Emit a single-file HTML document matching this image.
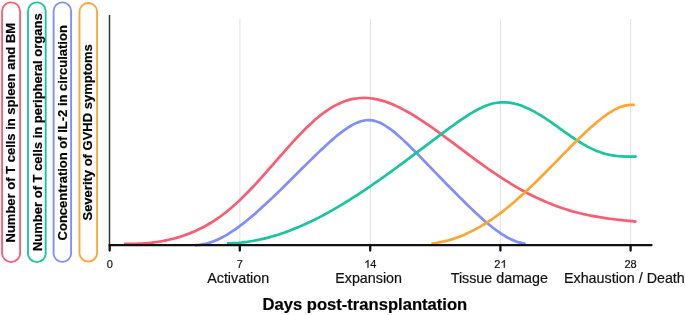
<!DOCTYPE html>
<html><head><meta charset="utf-8"><style>
html,body{margin:0;padding:0;background:#fff;width:685px;height:315px;overflow:hidden}
svg{display:block;will-change:transform}
text{font-family:"Liberation Sans",sans-serif;fill:#111;stroke:#111;stroke-width:0.2px;paint-order:stroke}
.pt{font-size:13px;font-weight:bold;fill:#000}
.tl{font-size:11px}
.cl{font-size:14.3px}
.ax{font-size:16.6px;font-weight:bold;fill:#000}
</style></head><body>
<svg width="685" height="315" viewBox="0 0 685 315">
<rect x="2.1" y="2.3" width="18.0" height="259.8" rx="9.0" ry="9.0" fill="none" stroke="#f85d72" stroke-width="1.85"/>
<text transform="translate(14.6,132.7) rotate(-90)" text-anchor="middle" class="pt">Number of T cells in spleen and BM</text>
<rect x="28.0" y="2.3" width="17.7" height="259.8" rx="8.85" ry="8.85" fill="none" stroke="#19c4a0" stroke-width="1.85"/>
<text transform="translate(41.5,132.2) rotate(-90)" text-anchor="middle" class="pt">Number of T cells in peripheral organs</text>
<rect x="53.6" y="2.3" width="17.5" height="259.6" rx="8.75" ry="8.75" fill="none" stroke="#7f8efc" stroke-width="1.85"/>
<text transform="translate(66.8,132.8) rotate(-90)" text-anchor="middle" class="pt">Concentration of IL-2 in circulation</text>
<rect x="79.5" y="3.0" width="17.6" height="258.6" rx="8.8" ry="8.8" fill="none" stroke="#fea633" stroke-width="1.85"/>
<text transform="translate(91.7,132.4) rotate(-90)" text-anchor="middle" class="pt">Severity of GVHD symptoms</text>
<line x1="239.9" y1="19" x2="239.9" y2="245" stroke="#e3e4e7" stroke-width="1.1"/>
<line x1="370.4" y1="19" x2="370.4" y2="245" stroke="#e3e4e7" stroke-width="1.1"/>
<line x1="500.5" y1="19" x2="500.5" y2="245" stroke="#e3e4e7" stroke-width="1.1"/>
<line x1="630.6" y1="19" x2="630.6" y2="245" stroke="#e3e4e7" stroke-width="1.1"/>
<path d="M124.00,243.85 C124.50,243.86 126.00,243.89 127.00,243.91 C128.00,243.92 129.00,243.92 130.00,243.92 C131.00,243.92 132.00,243.91 133.00,243.89 C134.00,243.87 135.00,243.85 136.00,243.82 C137.00,243.79 138.00,243.75 139.00,243.70 C140.00,243.65 141.00,243.60 142.00,243.54 C143.00,243.47 144.00,243.40 145.00,243.32 C146.00,243.24 147.00,243.16 148.00,243.06 C149.00,242.97 150.00,242.86 151.00,242.75 C152.00,242.64 153.00,242.51 154.00,242.38 C155.00,242.25 156.00,242.11 157.00,241.97 C158.00,241.82 159.00,241.66 160.00,241.49 C161.00,241.32 162.00,241.15 163.00,240.96 C164.00,240.77 165.00,240.57 166.00,240.37 C167.00,240.16 168.00,239.94 169.00,239.71 C170.00,239.48 171.00,239.25 172.00,238.99 C173.00,238.74 174.00,238.48 175.00,238.21 C176.00,237.94 177.00,237.66 178.00,237.36 C179.00,237.06 180.00,236.76 181.00,236.44 C182.00,236.12 183.00,235.79 184.00,235.44 C185.00,235.10 186.00,234.74 187.00,234.37 C188.00,234.00 189.00,233.62 190.00,233.22 C191.00,232.83 192.00,232.42 193.00,231.99 C194.00,231.57 195.00,231.13 196.00,230.68 C197.00,230.23 198.00,229.76 199.00,229.28 C200.00,228.80 201.00,228.30 202.00,227.79 C203.00,227.27 204.00,226.75 205.00,226.20 C206.00,225.66 207.00,225.10 208.00,224.52 C209.00,223.94 210.00,223.35 211.00,222.74 C212.00,222.13 213.00,221.50 214.00,220.85 C215.00,220.21 216.00,219.54 217.00,218.86 C218.00,218.18 219.00,217.48 220.00,216.76 C221.00,216.04 222.00,215.31 223.00,214.55 C224.00,213.80 225.00,213.02 226.00,212.23 C227.00,211.44 228.00,210.63 229.00,209.80 C230.00,208.97 231.00,208.12 232.00,207.26 C233.00,206.39 234.00,205.51 235.00,204.61 C236.00,203.71 237.00,202.80 238.00,201.86 C239.00,200.93 240.00,199.98 241.00,199.02 C242.00,198.05 243.00,197.07 244.00,196.08 C245.00,195.09 246.00,194.08 247.00,193.06 C248.00,192.04 249.00,191.01 250.00,189.96 C251.00,188.92 252.00,187.86 253.00,186.79 C254.00,185.73 255.00,184.65 256.00,183.56 C257.00,182.48 258.00,181.38 259.00,180.28 C260.00,179.18 261.00,178.07 262.00,176.95 C263.00,175.83 264.00,174.71 265.00,173.58 C266.00,172.45 267.00,171.32 268.00,170.18 C269.00,169.05 270.00,167.90 271.00,166.76 C272.00,165.62 273.00,164.47 274.00,163.33 C275.00,162.18 276.00,161.04 277.00,159.89 C278.00,158.75 279.00,157.60 280.00,156.46 C281.00,155.32 282.00,154.17 283.00,153.04 C284.00,151.90 285.00,150.77 286.00,149.64 C287.00,148.51 288.00,147.39 289.00,146.28 C290.00,145.16 291.00,144.05 292.00,142.95 C293.00,141.85 294.00,140.76 295.00,139.68 C296.00,138.60 297.00,137.53 298.00,136.47 C299.00,135.41 300.00,134.36 301.00,133.33 C302.00,132.29 303.00,131.27 304.00,130.27 C305.00,129.26 306.00,128.27 307.00,127.30 C308.00,126.32 309.00,125.37 310.00,124.43 C311.00,123.49 312.00,122.57 313.00,121.67 C314.00,120.77 315.00,119.89 316.00,119.03 C317.00,118.18 318.00,117.34 319.00,116.53 C320.00,115.72 321.00,114.92 322.00,114.16 C323.00,113.39 324.00,112.65 325.00,111.93 C326.00,111.22 327.00,110.53 328.00,109.86 C329.00,109.20 330.00,108.56 331.00,107.94 C332.00,107.33 333.00,106.74 334.00,106.19 C335.00,105.63 336.00,105.10 337.00,104.59 C338.00,104.09 339.00,103.62 340.00,103.17 C341.00,102.72 342.00,102.31 343.00,101.92 C344.00,101.53 345.00,101.17 346.00,100.83 C347.00,100.50 348.00,100.20 349.00,99.92 C350.00,99.65 351.00,99.40 352.00,99.19 C353.00,98.97 354.00,98.78 355.00,98.62 C356.00,98.46 357.00,98.33 358.00,98.22 C359.00,98.12 360.00,98.04 361.00,97.99 C362.00,97.94 363.00,97.92 364.00,97.92 C365.00,97.93 366.00,97.96 367.00,98.01 C368.00,98.07 369.00,98.15 370.00,98.26 C371.00,98.37 372.00,98.50 373.00,98.65 C374.00,98.81 375.00,98.99 376.00,99.19 C377.00,99.39 378.00,99.62 379.00,99.86 C380.00,100.11 381.00,100.37 382.00,100.66 C383.00,100.95 384.00,101.26 385.00,101.58 C386.00,101.91 387.00,102.26 388.00,102.62 C389.00,102.99 390.00,103.37 391.00,103.77 C392.00,104.17 393.00,104.59 394.00,105.03 C395.00,105.46 396.00,105.91 397.00,106.38 C398.00,106.84 399.00,107.32 400.00,107.82 C401.00,108.32 402.00,108.83 403.00,109.35 C404.00,109.87 405.00,110.41 406.00,110.96 C407.00,111.51 408.00,112.08 409.00,112.65 C410.00,113.22 411.00,113.81 412.00,114.41 C413.00,115.00 414.00,115.61 415.00,116.23 C416.00,116.85 417.00,117.47 418.00,118.11 C419.00,118.75 420.00,119.39 421.00,120.05 C422.00,120.70 423.00,121.37 424.00,122.04 C425.00,122.71 426.00,123.39 427.00,124.07 C428.00,124.75 429.00,125.45 430.00,126.14 C431.00,126.84 432.00,127.55 433.00,128.25 C434.00,128.96 435.00,129.68 436.00,130.40 C437.00,131.12 438.00,131.84 439.00,132.57 C440.00,133.29 441.00,134.03 442.00,134.76 C443.00,135.49 444.00,136.23 445.00,136.97 C446.00,137.71 447.00,138.46 448.00,139.20 C449.00,139.94 450.00,140.69 451.00,141.44 C452.00,142.19 453.00,142.94 454.00,143.69 C455.00,144.44 456.00,145.19 457.00,145.94 C458.00,146.69 459.00,147.44 460.00,148.19 C461.00,148.94 462.00,149.69 463.00,150.44 C464.00,151.19 465.00,151.94 466.00,152.68 C467.00,153.43 468.00,154.18 469.00,154.92 C470.00,155.66 471.00,156.40 472.00,157.14 C473.00,157.88 474.00,158.62 475.00,159.35 C476.00,160.08 477.00,160.82 478.00,161.54 C479.00,162.27 480.00,162.99 481.00,163.71 C482.00,164.43 483.00,165.15 484.00,165.86 C485.00,166.57 486.00,167.28 487.00,167.98 C488.00,168.68 489.00,169.38 490.00,170.08 C491.00,170.77 492.00,171.46 493.00,172.14 C494.00,172.82 495.00,173.50 496.00,174.17 C497.00,174.84 498.00,175.51 499.00,176.17 C500.00,176.83 501.00,177.49 502.00,178.13 C503.00,178.78 504.00,179.42 505.00,180.06 C506.00,180.69 507.00,181.32 508.00,181.95 C509.00,182.57 510.00,183.18 511.00,183.79 C512.00,184.40 513.00,185.00 514.00,185.59 C515.00,186.19 516.00,186.77 517.00,187.35 C518.00,187.93 519.00,188.50 520.00,189.07 C521.00,189.63 522.00,190.19 523.00,190.74 C524.00,191.29 525.00,191.83 526.00,192.36 C527.00,192.90 528.00,193.42 529.00,193.94 C530.00,194.46 531.00,194.96 532.00,195.47 C533.00,195.97 534.00,196.46 535.00,196.95 C536.00,197.43 537.00,197.91 538.00,198.38 C539.00,198.84 540.00,199.30 541.00,199.76 C542.00,200.21 543.00,200.65 544.00,201.09 C545.00,201.52 546.00,201.95 547.00,202.37 C548.00,202.79 549.00,203.20 550.00,203.60 C551.00,204.00 552.00,204.39 553.00,204.78 C554.00,205.17 555.00,205.54 556.00,205.91 C557.00,206.28 558.00,206.64 559.00,206.99 C560.00,207.35 561.00,207.69 562.00,208.03 C563.00,208.36 564.00,208.69 565.00,209.01 C566.00,209.33 567.00,209.65 568.00,209.95 C569.00,210.26 570.00,210.55 571.00,210.84 C572.00,211.13 573.00,211.41 574.00,211.69 C575.00,211.96 576.00,212.23 577.00,212.49 C578.00,212.75 579.00,213.00 580.00,213.25 C581.00,213.49 582.00,213.73 583.00,213.96 C584.00,214.19 585.00,214.42 586.00,214.64 C587.00,214.85 588.00,215.06 589.00,215.27 C590.00,215.47 591.00,215.67 592.00,215.87 C593.00,216.06 594.00,216.25 595.00,216.43 C596.00,216.61 597.00,216.78 598.00,216.95 C599.00,217.12 600.00,217.29 601.00,217.45 C602.00,217.61 603.00,217.76 604.00,217.91 C605.00,218.06 606.00,218.20 607.00,218.34 C608.00,218.48 609.00,218.62 610.00,218.75 C611.00,218.89 612.00,219.01 613.00,219.14 C614.00,219.26 615.00,219.39 616.00,219.50 C617.00,219.62 618.00,219.74 619.00,219.85 C620.00,219.96 621.00,220.07 622.00,220.18 C623.00,220.29 624.00,220.40 625.00,220.50 C626.00,220.60 627.00,220.71 628.00,220.81 C629.00,220.91 630.00,221.01 631.00,221.11 C632.00,221.21 633.27,221.34 634.00,221.41 C634.73,221.48 635.17,221.53 635.40,221.55" fill="none" stroke="#f85d72" stroke-width="2.7" stroke-linecap="butt" stroke-linejoin="round"/>
<circle cx="635.40" cy="221.55" r="1.35" fill="#f85d72"/>
<path d="M195.00,245.06 C195.50,245.04 197.00,245.04 198.00,244.98 C199.00,244.92 200.00,244.82 201.00,244.68 C202.00,244.55 203.00,244.38 204.00,244.19 C205.00,243.99 206.00,243.76 207.00,243.49 C208.00,243.23 209.00,242.94 210.00,242.62 C211.00,242.30 212.00,241.95 213.00,241.57 C214.00,241.20 215.00,240.79 216.00,240.36 C217.00,239.93 218.00,239.48 219.00,239.00 C220.00,238.52 221.00,238.01 222.00,237.49 C223.00,236.96 224.00,236.41 225.00,235.84 C226.00,235.27 227.00,234.68 228.00,234.07 C229.00,233.46 230.00,232.82 231.00,232.17 C232.00,231.53 233.00,230.86 234.00,230.17 C235.00,229.49 236.00,228.78 237.00,228.06 C238.00,227.35 239.00,226.61 240.00,225.86 C241.00,225.11 242.00,224.35 243.00,223.57 C244.00,222.79 245.00,222.00 246.00,221.20 C247.00,220.39 248.00,219.58 249.00,218.75 C250.00,217.92 251.00,217.08 252.00,216.23 C253.00,215.38 254.00,214.52 255.00,213.65 C256.00,212.78 257.00,211.90 258.00,211.01 C259.00,210.12 260.00,209.22 261.00,208.32 C262.00,207.42 263.00,206.50 264.00,205.58 C265.00,204.66 266.00,203.74 267.00,202.80 C268.00,201.87 269.00,200.93 270.00,199.99 C271.00,199.04 272.00,198.09 273.00,197.14 C274.00,196.18 275.00,195.22 276.00,194.26 C277.00,193.29 278.00,192.32 279.00,191.35 C280.00,190.38 281.00,189.40 282.00,188.42 C283.00,187.44 284.00,186.46 285.00,185.48 C286.00,184.49 287.00,183.50 288.00,182.51 C289.00,181.52 290.00,180.53 291.00,179.54 C292.00,178.54 293.00,177.55 294.00,176.55 C295.00,175.56 296.00,174.56 297.00,173.56 C298.00,172.56 299.00,171.57 300.00,170.57 C301.00,169.57 302.00,168.58 303.00,167.58 C304.00,166.59 305.00,165.59 306.00,164.60 C307.00,163.61 308.00,162.62 309.00,161.63 C310.00,160.65 311.00,159.66 312.00,158.68 C313.00,157.70 314.00,156.73 315.00,155.76 C316.00,154.79 317.00,153.82 318.00,152.87 C319.00,151.91 320.00,150.96 321.00,150.01 C322.00,149.07 323.00,148.13 324.00,147.20 C325.00,146.27 326.00,145.35 327.00,144.44 C328.00,143.53 329.00,142.63 330.00,141.75 C331.00,140.86 332.00,139.98 333.00,139.12 C334.00,138.26 335.00,137.41 336.00,136.58 C337.00,135.75 338.00,134.93 339.00,134.14 C340.00,133.35 341.00,132.57 342.00,131.82 C343.00,131.07 344.00,130.34 345.00,129.63 C346.00,128.93 347.00,128.25 348.00,127.61 C349.00,126.96 350.00,126.35 351.00,125.77 C352.00,125.19 353.00,124.64 354.00,124.13 C355.00,123.63 356.00,123.16 357.00,122.74 C358.00,122.32 359.00,121.93 360.00,121.61 C361.00,121.28 362.00,121.00 363.00,120.78 C364.00,120.56 365.00,120.39 366.00,120.28 C367.00,120.17 368.00,120.13 369.00,120.14 C370.00,120.16 371.00,120.24 372.00,120.39 C373.00,120.53 374.00,120.74 375.00,121.00 C376.00,121.27 377.00,121.60 378.00,121.99 C379.00,122.37 380.00,122.81 381.00,123.30 C382.00,123.79 383.00,124.33 384.00,124.91 C385.00,125.49 386.00,126.12 387.00,126.78 C388.00,127.44 389.00,128.14 390.00,128.87 C391.00,129.60 392.00,130.36 393.00,131.15 C394.00,131.94 395.00,132.76 396.00,133.59 C397.00,134.43 398.00,135.29 399.00,136.17 C400.00,137.05 401.00,137.95 402.00,138.87 C403.00,139.78 404.00,140.71 405.00,141.66 C406.00,142.60 407.00,143.56 408.00,144.53 C409.00,145.50 410.00,146.48 411.00,147.47 C412.00,148.45 413.00,149.45 414.00,150.46 C415.00,151.46 416.00,152.48 417.00,153.50 C418.00,154.51 419.00,155.54 420.00,156.56 C421.00,157.59 422.00,158.62 423.00,159.65 C424.00,160.69 425.00,161.72 426.00,162.76 C427.00,163.80 428.00,164.83 429.00,165.87 C430.00,166.91 431.00,167.95 432.00,168.99 C433.00,170.02 434.00,171.06 435.00,172.10 C436.00,173.13 437.00,174.17 438.00,175.20 C439.00,176.23 440.00,177.26 441.00,178.29 C442.00,179.32 443.00,180.35 444.00,181.38 C445.00,182.40 446.00,183.42 447.00,184.45 C448.00,185.47 449.00,186.49 450.00,187.50 C451.00,188.52 452.00,189.53 453.00,190.55 C454.00,191.56 455.00,192.57 456.00,193.57 C457.00,194.58 458.00,195.58 459.00,196.58 C460.00,197.58 461.00,198.58 462.00,199.57 C463.00,200.56 464.00,201.55 465.00,202.53 C466.00,203.51 467.00,204.49 468.00,205.46 C469.00,206.43 470.00,207.39 471.00,208.35 C472.00,209.30 473.00,210.26 474.00,211.20 C475.00,212.14 476.00,213.07 477.00,214.00 C478.00,214.92 479.00,215.84 480.00,216.74 C481.00,217.64 482.00,218.54 483.00,219.42 C484.00,220.30 485.00,221.16 486.00,222.02 C487.00,222.87 488.00,223.71 489.00,224.53 C490.00,225.36 491.00,226.17 492.00,226.96 C493.00,227.75 494.00,228.52 495.00,229.27 C496.00,230.02 497.00,230.76 498.00,231.47 C499.00,232.18 500.00,232.87 501.00,233.54 C502.00,234.20 503.00,234.84 504.00,235.46 C505.00,236.07 506.00,236.66 507.00,237.22 C508.00,237.78 509.00,238.31 510.00,238.81 C511.00,239.31 512.00,239.78 513.00,240.22 C514.00,240.65 515.00,241.05 516.00,241.41 C517.00,241.78 518.00,242.10 519.00,242.39 C520.00,242.67 521.08,242.93 522.00,243.13 C522.92,243.32 524.08,243.48 524.50,243.55" fill="none" stroke="#7f8efc" stroke-width="2.7" stroke-linecap="butt" stroke-linejoin="round"/>
<circle cx="524.50" cy="243.55" r="1.35" fill="#7f8efc"/>
<path d="M227.00,243.41 C227.50,243.40 229.00,243.38 230.00,243.34 C231.00,243.31 232.00,243.27 233.00,243.21 C234.00,243.16 235.00,243.10 236.00,243.03 C237.00,242.96 238.00,242.88 239.00,242.79 C240.00,242.70 241.00,242.60 242.00,242.49 C243.00,242.38 244.00,242.26 245.00,242.13 C246.00,242.00 247.00,241.87 248.00,241.72 C249.00,241.58 250.00,241.42 251.00,241.26 C252.00,241.09 253.00,240.92 254.00,240.74 C255.00,240.56 256.00,240.36 257.00,240.16 C258.00,239.96 259.00,239.76 260.00,239.54 C261.00,239.32 262.00,239.09 263.00,238.86 C264.00,238.63 265.00,238.38 266.00,238.13 C267.00,237.88 268.00,237.62 269.00,237.35 C270.00,237.08 271.00,236.80 272.00,236.52 C273.00,236.23 274.00,235.94 275.00,235.63 C276.00,235.33 277.00,235.02 278.00,234.70 C279.00,234.38 280.00,234.06 281.00,233.72 C282.00,233.39 283.00,233.05 284.00,232.70 C285.00,232.35 286.00,231.99 287.00,231.62 C288.00,231.26 289.00,230.88 290.00,230.50 C291.00,230.12 292.00,229.73 293.00,229.33 C294.00,228.94 295.00,228.53 296.00,228.12 C297.00,227.71 298.00,227.29 299.00,226.87 C300.00,226.44 301.00,226.01 302.00,225.57 C303.00,225.13 304.00,224.68 305.00,224.23 C306.00,223.77 307.00,223.31 308.00,222.84 C309.00,222.38 310.00,221.90 311.00,221.42 C312.00,220.94 313.00,220.45 314.00,219.96 C315.00,219.46 316.00,218.96 317.00,218.45 C318.00,217.95 319.00,217.43 320.00,216.91 C321.00,216.39 322.00,215.87 323.00,215.33 C324.00,214.80 325.00,214.26 326.00,213.72 C327.00,213.17 328.00,212.62 329.00,212.07 C330.00,211.51 331.00,210.95 332.00,210.38 C333.00,209.81 334.00,209.24 335.00,208.66 C336.00,208.08 337.00,207.50 338.00,206.91 C339.00,206.32 340.00,205.73 341.00,205.13 C342.00,204.53 343.00,203.92 344.00,203.31 C345.00,202.70 346.00,202.09 347.00,201.47 C348.00,200.85 349.00,200.22 350.00,199.60 C351.00,198.97 352.00,198.33 353.00,197.69 C354.00,197.06 355.00,196.41 356.00,195.77 C357.00,195.12 358.00,194.47 359.00,193.81 C360.00,193.16 361.00,192.50 362.00,191.83 C363.00,191.17 364.00,190.50 365.00,189.83 C366.00,189.16 367.00,188.48 368.00,187.81 C369.00,187.13 370.00,186.44 371.00,185.76 C372.00,185.07 373.00,184.38 374.00,183.69 C375.00,183.00 376.00,182.30 377.00,181.60 C378.00,180.90 379.00,180.20 380.00,179.50 C381.00,178.79 382.00,178.08 383.00,177.37 C384.00,176.66 385.00,175.95 386.00,175.23 C387.00,174.52 388.00,173.80 389.00,173.08 C390.00,172.35 391.00,171.63 392.00,170.91 C393.00,170.18 394.00,169.45 395.00,168.72 C396.00,167.99 397.00,167.26 398.00,166.53 C399.00,165.79 400.00,165.06 401.00,164.32 C402.00,163.58 403.00,162.84 404.00,162.10 C405.00,161.36 406.00,160.62 407.00,159.88 C408.00,159.13 409.00,158.39 410.00,157.64 C411.00,156.90 412.00,156.15 413.00,155.40 C414.00,154.66 415.00,153.91 416.00,153.16 C417.00,152.41 418.00,151.66 419.00,150.91 C420.00,150.16 421.00,149.41 422.00,148.66 C423.00,147.90 424.00,147.15 425.00,146.40 C426.00,145.65 427.00,144.90 428.00,144.15 C429.00,143.39 430.00,142.64 431.00,141.89 C432.00,141.14 433.00,140.39 434.00,139.64 C435.00,138.89 436.00,138.14 437.00,137.39 C438.00,136.64 439.00,135.89 440.00,135.14 C441.00,134.39 442.00,133.65 443.00,132.90 C444.00,132.16 445.00,131.41 446.00,130.67 C447.00,129.93 448.00,129.19 449.00,128.46 C450.00,127.72 451.00,126.99 452.00,126.26 C453.00,125.53 454.00,124.81 455.00,124.09 C456.00,123.38 457.00,122.66 458.00,121.96 C459.00,121.26 460.00,120.56 461.00,119.87 C462.00,119.18 463.00,118.50 464.00,117.83 C465.00,117.16 466.00,116.50 467.00,115.86 C468.00,115.21 469.00,114.58 470.00,113.96 C471.00,113.34 472.00,112.74 473.00,112.15 C474.00,111.57 475.00,111.00 476.00,110.45 C477.00,109.90 478.00,109.37 479.00,108.86 C480.00,108.36 481.00,107.87 482.00,107.41 C483.00,106.95 484.00,106.52 485.00,106.11 C486.00,105.71 487.00,105.33 488.00,104.98 C489.00,104.64 490.00,104.32 491.00,104.04 C492.00,103.76 493.00,103.51 494.00,103.29 C495.00,103.07 496.00,102.89 497.00,102.75 C498.00,102.60 499.00,102.49 500.00,102.41 C501.00,102.33 502.00,102.29 503.00,102.28 C504.00,102.27 505.00,102.30 506.00,102.36 C507.00,102.42 508.00,102.52 509.00,102.64 C510.00,102.77 511.00,102.92 512.00,103.11 C513.00,103.30 514.00,103.52 515.00,103.76 C516.00,104.01 517.00,104.28 518.00,104.58 C519.00,104.88 520.00,105.20 521.00,105.56 C522.00,105.91 523.00,106.28 524.00,106.68 C525.00,107.09 526.00,107.51 527.00,107.96 C528.00,108.41 529.00,108.88 530.00,109.38 C531.00,109.87 532.00,110.39 533.00,110.92 C534.00,111.46 535.00,112.02 536.00,112.59 C537.00,113.16 538.00,113.75 539.00,114.36 C540.00,114.97 541.00,115.59 542.00,116.22 C543.00,116.86 544.00,117.51 545.00,118.17 C546.00,118.82 547.00,119.50 548.00,120.17 C549.00,120.85 550.00,121.54 551.00,122.23 C552.00,122.93 553.00,123.63 554.00,124.33 C555.00,125.04 556.00,125.75 557.00,126.46 C558.00,127.17 559.00,127.88 560.00,128.60 C561.00,129.31 562.00,130.02 563.00,130.73 C564.00,131.45 565.00,132.16 566.00,132.86 C567.00,133.57 568.00,134.27 569.00,134.96 C570.00,135.66 571.00,136.35 572.00,137.03 C573.00,137.70 574.00,138.38 575.00,139.04 C576.00,139.70 577.00,140.35 578.00,140.99 C579.00,141.62 580.00,142.25 581.00,142.86 C582.00,143.47 583.00,144.07 584.00,144.65 C585.00,145.23 586.00,145.79 587.00,146.33 C588.00,146.88 589.00,147.40 590.00,147.91 C591.00,148.41 592.00,148.90 593.00,149.36 C594.00,149.82 595.00,150.26 596.00,150.67 C597.00,151.09 598.00,151.48 599.00,151.85 C600.00,152.22 601.00,152.57 602.00,152.89 C603.00,153.21 604.00,153.51 605.00,153.78 C606.00,154.06 607.00,154.31 608.00,154.54 C609.00,154.76 610.00,154.97 611.00,155.15 C612.00,155.34 613.00,155.50 614.00,155.64 C615.00,155.78 616.00,155.90 617.00,156.01 C618.00,156.11 619.00,156.20 620.00,156.27 C621.00,156.34 622.00,156.40 623.00,156.44 C624.00,156.48 625.00,156.51 626.00,156.54 C627.00,156.56 628.00,156.57 629.00,156.58 C630.00,156.59 631.00,156.59 632.00,156.60 C633.00,156.60 634.42,156.60 635.00,156.61 C635.58,156.61 635.42,156.61 635.50,156.61" fill="none" stroke="#19c4a0" stroke-width="2.7" stroke-linecap="butt" stroke-linejoin="round"/>
<circle cx="635.50" cy="156.61" r="1.35" fill="#19c4a0"/>
<path d="M431.40,243.62 C431.90,243.56 433.40,243.37 434.40,243.23 C435.40,243.08 436.40,242.92 437.40,242.75 C438.40,242.58 439.40,242.39 440.40,242.19 C441.40,241.99 442.40,241.78 443.40,241.55 C444.40,241.32 445.40,241.08 446.40,240.82 C447.40,240.56 448.40,240.29 449.40,240.01 C450.40,239.72 451.40,239.42 452.40,239.11 C453.40,238.79 454.40,238.46 455.40,238.12 C456.40,237.78 457.40,237.42 458.40,237.05 C459.40,236.67 460.40,236.29 461.40,235.89 C462.40,235.49 463.40,235.07 464.40,234.64 C465.40,234.21 466.40,233.77 467.40,233.31 C468.40,232.85 469.40,232.37 470.40,231.89 C471.40,231.40 472.40,230.90 473.40,230.38 C474.40,229.86 475.40,229.33 476.40,228.79 C477.40,228.25 478.40,227.69 479.40,227.11 C480.40,226.54 481.40,225.96 482.40,225.36 C483.40,224.76 484.40,224.14 485.40,223.51 C486.40,222.89 487.40,222.25 488.40,221.59 C489.40,220.94 490.40,220.27 491.40,219.59 C492.40,218.91 493.40,218.22 494.40,217.51 C495.40,216.80 496.40,216.08 497.40,215.35 C498.40,214.62 499.40,213.88 500.40,213.12 C501.40,212.37 502.40,211.60 503.40,210.82 C504.40,210.04 505.40,209.25 506.40,208.45 C507.40,207.64 508.40,206.83 509.40,206.00 C510.40,205.18 511.40,204.34 512.40,203.50 C513.40,202.65 514.40,201.79 515.40,200.93 C516.40,200.06 517.40,199.19 518.40,198.30 C519.40,197.41 520.40,196.52 521.40,195.61 C522.40,194.71 523.40,193.80 524.40,192.88 C525.40,191.95 526.40,191.02 527.40,190.09 C528.40,189.15 529.40,188.20 530.40,187.25 C531.40,186.30 532.40,185.34 533.40,184.37 C534.40,183.41 535.40,182.43 536.40,181.45 C537.40,180.48 538.40,179.49 539.40,178.50 C540.40,177.51 541.40,176.52 542.40,175.52 C543.40,174.52 544.40,173.51 545.40,172.51 C546.40,171.50 547.40,170.49 548.40,169.47 C549.40,168.46 550.40,167.44 551.40,166.42 C552.40,165.40 553.40,164.38 554.40,163.36 C555.40,162.34 556.40,161.31 557.40,160.29 C558.40,159.27 559.40,158.24 560.40,157.22 C561.40,156.19 562.40,155.17 563.40,154.15 C564.40,153.13 565.40,152.11 566.40,151.09 C567.40,150.08 568.40,149.06 569.40,148.05 C570.40,147.05 571.40,146.04 572.40,145.04 C573.40,144.04 574.40,143.04 575.40,142.05 C576.40,141.06 577.40,140.08 578.40,139.10 C579.40,138.12 580.40,137.15 581.40,136.19 C582.40,135.23 583.40,134.28 584.40,133.34 C585.40,132.40 586.40,131.46 587.40,130.54 C588.40,129.62 589.40,128.71 590.40,127.81 C591.40,126.92 592.40,126.03 593.40,125.16 C594.40,124.29 595.40,123.43 596.40,122.60 C597.40,121.76 598.40,120.93 599.40,120.13 C600.40,119.33 601.40,118.54 602.40,117.78 C603.40,117.02 604.40,116.28 605.40,115.56 C606.40,114.85 607.40,114.15 608.40,113.49 C609.40,112.83 610.40,112.19 611.40,111.59 C612.40,110.98 613.40,110.41 614.40,109.87 C615.40,109.33 616.40,108.83 617.40,108.36 C618.40,107.90 619.40,107.47 620.40,107.09 C621.40,106.71 622.40,106.37 623.40,106.08 C624.40,105.79 625.40,105.54 626.40,105.35 C627.40,105.16 628.40,105.02 629.40,104.94 C630.40,104.86 631.70,104.88 632.40,104.88 C633.10,104.88 633.40,104.94 633.60,104.96" fill="none" stroke="#fea633" stroke-width="2.7" stroke-linecap="butt" stroke-linejoin="round"/>
<circle cx="633.60" cy="104.96" r="1.35" fill="#fea633"/>
<line x1="109.5" y1="15" x2="109.5" y2="245" stroke="#333" stroke-width="1.5"/>
<line x1="108.7" y1="245.1" x2="652.4" y2="245.1" stroke="#111" stroke-width="2.3"/>
<line x1="109.7" y1="245.1" x2="109.7" y2="250.5" stroke="#111" stroke-width="2.3" stroke-linecap="round"/>
<line x1="239.8" y1="245.1" x2="239.8" y2="250.5" stroke="#111" stroke-width="2.3" stroke-linecap="round"/>
<line x1="370.2" y1="245.1" x2="370.2" y2="250.5" stroke="#111" stroke-width="2.3" stroke-linecap="round"/>
<line x1="500.4" y1="245.1" x2="500.4" y2="250.5" stroke="#111" stroke-width="2.3" stroke-linecap="round"/>
<line x1="630.6" y1="245.1" x2="630.6" y2="250.5" stroke="#111" stroke-width="2.3" stroke-linecap="round"/>
<text x="109.7" y="267.8" text-anchor="middle" class="tl">0</text>
<text x="239.8" y="267.8" text-anchor="middle" class="tl">7</text>
<path d="M367.49,267.80 L368.48,267.80 L368.48,259.92 L367.77,259.92 L367.38,260.49 L366.61,261.20 L365.29,262.03 L365.29,262.96 L366.28,262.44 L367.00,261.92 L367.49,261.48Z" fill="#111" stroke="#111" stroke-width="0.2"/>
<text x="370.20" y="267.8" class="tl">4</text>
<text x="494.28" y="267.8" class="tl">2</text>
<path d="M503.81,267.80 L504.80,267.80 L504.80,259.92 L504.08,259.92 L503.70,260.49 L502.93,261.20 L501.61,262.03 L501.61,262.96 L502.60,262.44 L503.31,261.92 L503.81,261.48Z" fill="#111" stroke="#111" stroke-width="0.2"/>
<text x="630.6" y="267.8" text-anchor="middle" class="tl">28</text>
<text x="238.2" y="282.6" text-anchor="middle" class="cl">Activation</text>
<text x="368.6" y="282.6" text-anchor="middle" class="cl">Expansion</text>
<text x="499.3" y="282.6" text-anchor="middle" class="cl">Tissue damage</text>
<text x="684.8" y="282.6" text-anchor="end" class="cl">Exhaustion / Death</text>
<text x="262.5" y="309.9" class="ax">Days post-transplantation</text>
</svg>
</body></html>
